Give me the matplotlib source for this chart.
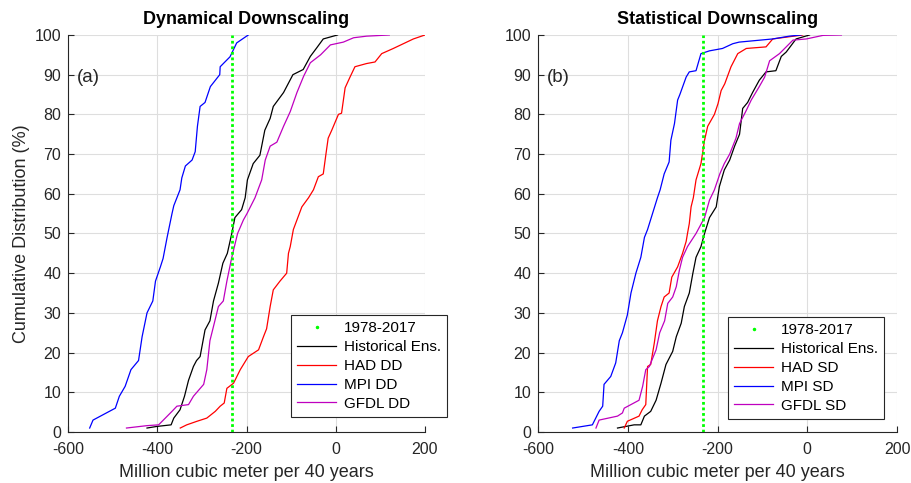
import numpy as np
import matplotlib
matplotlib.use('Agg')
from matplotlib import pyplot as plt
from matplotlib.lines import Line2D

plt.rcParams['font.family'] = ['Liberation Sans', 'DejaVu Sans']
plt.rcParams['axes.unicode_minus'] = False

obs_value = -231.5  # 1978-2017

# Dynamical downscaling (a)
dd_hist_x = [-423, -401, -369, -363, -349, -339, -330, -319, -312, -304, -293, -282, -274, -263, -253,
             -243, -233, -226, -211, -203, -198, -185, -170, -159, -147, -140, -117, -96, -73, -57,
             -43, -28, 4]
dd_hist_y = [1, 1.4, 1.8, 3.5, 5.6, 9, 13, 16.5, 18, 19, 25.7, 28, 33, 37.5, 42.5,
             45, 50, 54, 56, 59, 63.5, 67.6, 69.7, 76, 79, 82, 85.5, 90, 91.3, 94.6,
             96.7, 99, 100]
dd_had_x = [-348.5, -334, -311, -289, -270, -259, -250, -244, -229, -214, -196, -173, -162, -155, -147,
            -140, -125, -110, -106, -102, -95, -85, -76, -61, -50, -39, -28, -22, -17, -9,
            6, 13, 21, 32, 43, 69, 88, 103, 129, 144, 174, 200]
dd_had_y = [1, 1.8, 2.7, 3.5, 5.2, 6.5, 7.3, 11, 12.3, 15.7, 19, 20.7, 24, 26, 31.6,
            35.8, 38, 40, 45, 46.7, 51, 54, 56.7, 59, 61, 64.3, 65, 70, 74, 76,
            80, 80.3, 86.7, 89.4, 92, 92.8, 93.2, 95.3, 96.6, 97.4, 99, 100]
dd_mpi_x = [-551.5, -544, -494, -485, -472, -459, -442, -434, -423, -410, -404, -393, -387, -378, -367,
            -363, -349, -345, -337, -322, -315, -310, -304, -293, -281, -274, -260, -259, -237, -222,
            -196]
dd_mpi_y = [1, 3, 6, 9, 11.5, 15.7, 18, 24, 30, 33, 38, 41.6, 43.7, 49, 55,
            57, 61, 64, 67, 68.5, 70.6, 77, 82, 83, 87, 88, 90, 92, 94.5, 98,
            100]
dd_gfdl_x = [-469, -423, -397, -382, -367, -356, -330, -319, -296, -289, -282, -274, -263, -252, -244,
             -233, -220, -207, -199, -181, -166, -158, -147, -132, -117, -102, -87, -72, -57, -34,
             -12, 17, 40, 69, 120]
dd_gfdl_y = [1, 1.6, 1.8, 3.5, 5.2, 6.5, 6.9, 9, 12, 15.7, 23, 26.6, 31.6, 33, 38,
             44, 50, 53.4, 55, 59, 63.5, 68.5, 72, 73, 77, 80.7, 85.5, 89.6, 93, 95,
             97.5, 98.2, 99.3, 99.7, 100]

# Statistical downscaling (b)
sd_hist_x = [-423, -386, -371, -363, -349, -337, -326, -315, -300, -292, -281, -274, -263, -255, -248,
             -237, -229, -218, -203, -196, -185, -173, -162, -151, -144, -133, -122, -107, -92, -70,
             -58, -47, -25, 5]
sd_hist_y = [1, 1.8, 1.8, 4, 5.2, 8, 12.3, 17, 20.3, 24, 27.4, 31.6, 35, 40, 44,
             46.7, 50, 54, 56.7, 61.8, 66, 68.5, 72, 75, 81.5, 83, 85.5, 88.6, 90.7, 91,
             94.6, 95.7, 99, 100]
sd_had_x = [-408, -401, -375, -368, -360, -356, -349, -341, -334, -326, -319, -308, -302, -289, -278,
            -270, -267, -263, -259, -254, -248, -237, -229, -222, -207, -199, -192, -184, -170, -155,
            -136, -92, -77, -10]
sd_had_y = [1, 2.7, 4, 5.6, 6.9, 16.5, 17, 22.4, 28, 31.6, 34, 35, 39, 41.6, 45,
            48, 50, 52.5, 56.7, 59, 63.5, 67.6, 73.5, 77, 80, 82.7, 86, 87.7, 92, 95.3,
            96.6, 97, 99, 100]
sd_mpi_x = [-523, -479, -464, -456, -453, -438, -427, -419, -412, -401, -393, -382, -371, -363, -356,
            -345, -334, -328, -319, -308, -304, -296, -289, -284, -270, -263, -248, -237, -218, -189,
            -166, -152, -77, -40, -14]
sd_mpi_y = [1, 1.8, 5.2, 6.5, 12, 14, 17.4, 23, 25, 29.5, 35, 40, 44, 49, 51,
            55, 59, 61, 65, 68, 73.5, 77.7, 83.6, 85, 89.4, 90.7, 91, 95.3, 96, 96.6,
            97.8, 98.2, 99, 99.7, 100]
sd_gfdl_x = [-471, -464, -423, -412, -408, -375, -367, -360, -352, -337, -329, -318, -311, -300, -292,
             -285, -278, -267, -248, -229, -218, -207, -195, -185, -173, -159, -151, -136, -125, -107,
             -95, -84, -62, -47, -32, -2, 35, 76]
sd_gfdl_y = [1, 3, 4, 4.8, 6, 8, 11.5, 15.7, 16.5, 20.7, 25, 28, 32.4, 34, 36.6,
             40.8, 44, 46.7, 50, 54, 58.4, 61, 65, 67.6, 70, 74, 77.7, 81, 83.6, 87,
             89.4, 93.5, 95.3, 97, 98.7, 99, 99.9, 100]

panels = [
    ('Dynamical Downscaling', '(a)', 'DD',
     [(dd_hist_x, dd_hist_y), (dd_had_x, dd_had_y), (dd_mpi_x, dd_mpi_y), (dd_gfdl_x, dd_gfdl_y)],
     (1.062, 0.038)),
    ('Statistical Downscaling', '(b)', 'SD',
     [(sd_hist_x, sd_hist_y), (sd_had_x, sd_had_y), (sd_mpi_x, sd_mpi_y), (sd_gfdl_x, sd_gfdl_y)],
     (0.964, 0.033)),
]
colors = ['k', 'r', 'b', 'm']
gray = '#262626'

fig = plt.figure(figsize=(9.12, 4.83), dpi=100)
ax_pos = [[0.0746, 0.1056, 0.3914, 0.822], [0.590, 0.1056, 0.3936, 0.822]]

for i, (title, tag, suffix, series, leg_anchor) in enumerate(panels):
    ax = fig.add_axes(ax_pos[i])
    names = ['Historical Ens.', 'HAD ' + suffix, 'MPI ' + suffix, 'GFDL ' + suffix]
    handles = [Line2D([], [], color='lime', marker='.', markersize=3, linestyle='none')]
    for (x, y), c, n in zip(series, colors, names):
        h, = ax.plot(x, y, color=c, lw=0.9)
        handles.append(h)
    ax.plot([obs_value, obs_value], [0, 100], color='lime', lw=2, linestyle=(0, (1, 1)))
    ax.set_xlim(-600, 200)
    ax.set_ylim(0, 100)
    ax.set_xticks([-600, -400, -200, 0, 200])
    ax.set_yticks(np.arange(0, 101, 10))
    ax.grid(True, color='#dedede', lw=0.8)
    ax.set_axisbelow(True)
    for s in ['top', 'right']:
        ax.spines[s].set_visible(False)
    for s in ['left', 'bottom']:
        ax.spines[s].set_color(gray)
    ax.tick_params(direction='in', length=4, colors=gray, labelsize=11.5)
    ax.tick_params(axis='x', pad=7)
    ax.tick_params(axis='y', pad=5)
    ax.set_title(title, fontsize=13, fontweight='bold', pad=8)
    ax.set_xlabel('Million cubic meter per 40 years', fontsize=13, color=gray, labelpad=5)
    if i == 0:
        ax.set_ylabel('Cumulative Distribution (%)', fontsize=13, color=gray, labelpad=3)
    ax.text(0.025, 0.894, tag, transform=ax.transAxes, fontsize=13.5, va='center', color=gray)
    leg = ax.legend(handles, ['1978-2017'] + names, loc='lower right', bbox_to_anchor=leg_anchor,
                    fontsize=11, fancybox=False, framealpha=1, edgecolor=gray, handlelength=2.6,
                    labelspacing=0.32, borderpad=0.4, handletextpad=0.5, borderaxespad=0)
    leg.get_frame().set_linewidth(0.8)

plt.savefig('out.png', dpi=100)
